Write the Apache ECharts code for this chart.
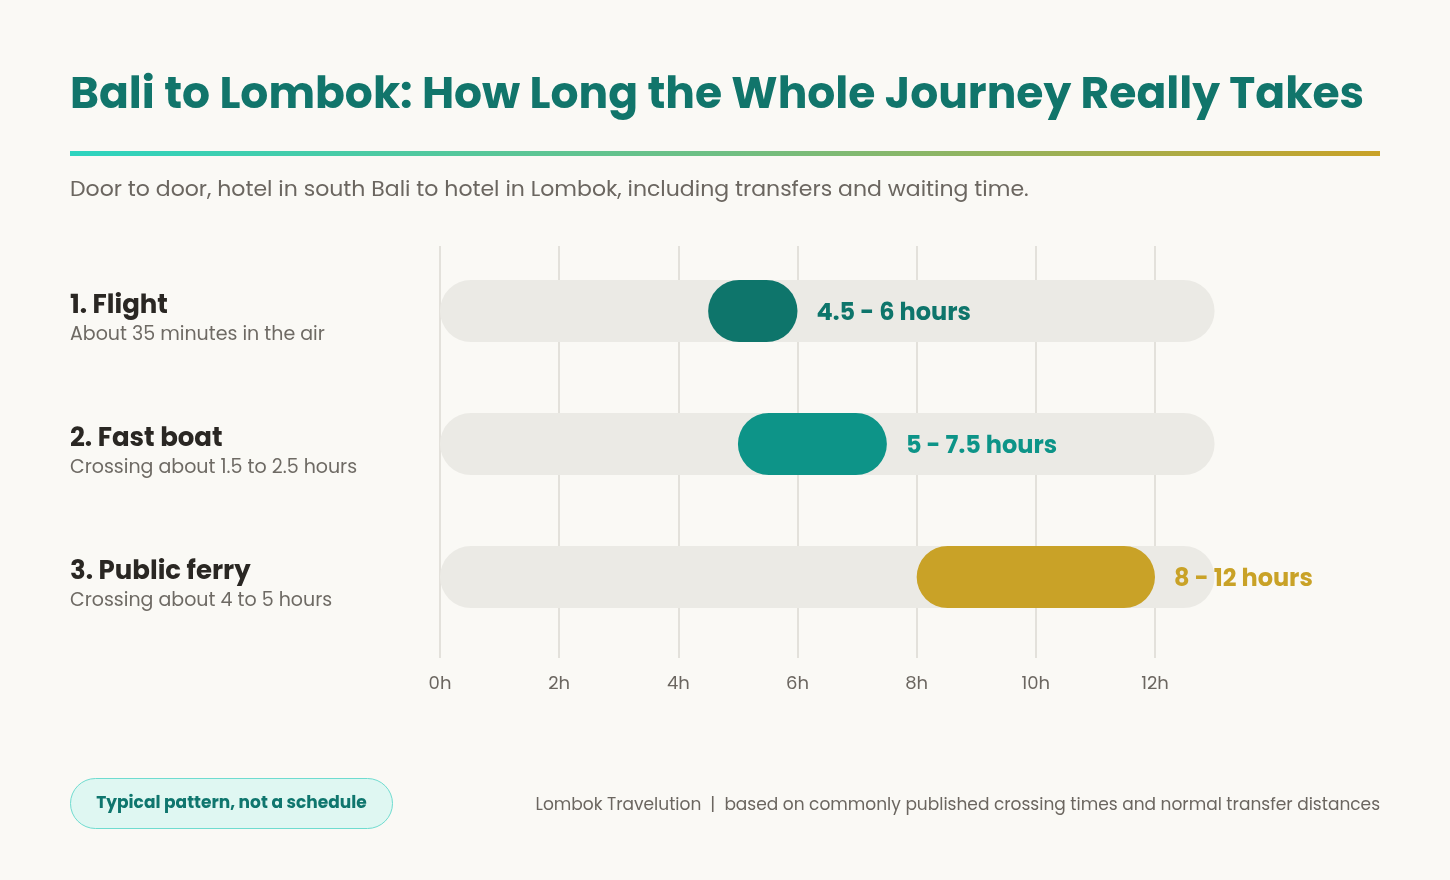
<!DOCTYPE html>
<html>
<head>
<meta charset="utf-8">
<script src="https://cdn.jsdelivr.net/npm/echarts@6/dist/echarts.min.js"></script>
<style>
html,body{margin:0;padding:0;background:#faf9f5;}
#chart{width:1450px;height:880px;}
</style>
</head>
<body>
<div id="chart"></div>
<script>
const categories = ['1. Flight', '2. Fast boat', '3. Public ferry'];
const subtitles = ['About 35 minutes in the air', 'Crossing about 1.5 to 2.5 hours', 'Crossing about 4 to 5 hours'];
const minHours = [4.5, 5, 8];
const maxHours = [6, 7.5, 12];
const rangeLabels = ['4.5 - 6 hours', '5 - 7.5 hours', '8 - 12 hours'];
const trackStart = 0;
const trackEnd = 13;
const tickValues = [0, 2, 4, 6, 8, 10, 12];

const barColors = ['#0e756b', '#0d9488', '#c9a227'];
const FONT = 'Poppins, Inter, "Noto Sans", sans-serif';

const chart = echarts.init(document.getElementById('chart'));

function pill(params, api, x0, x1, color) {
  const idx = api.value(2);
  const p0 = api.coord([x0, idx]);
  const p1 = api.coord([x1, idx]);
  const band = api.size([0, 1])[1];
  const h = band * 0.466;
  return {
    type: 'rect',
    shape: { x: p0[0], y: p0[1] - h / 2, width: p1[0] - p0[0], height: h, r: h / 2 },
    style: { fill: color }
  };
}

const option = {
  backgroundColor: '#faf9f5',
  animation: false,
  textStyle: { fontFamily: FONT },
  title: [
    {
      text: 'Bali to Lombok: How Long the Whole Journey Really Takes',
      left: 70, top: 69, padding: 0,
      textStyle: { fontFamily: FONT, fontSize: 44, fontWeight: 'bold', color: '#11756b', lineHeight: 56 }
    },
    {
      text: 'Door to door, hotel in south Bali to hotel in Lombok, including transfers and waiting time.',
      left: 70, top: 175, padding: 0,
      textStyle: { fontFamily: FONT, fontSize: 22, fontWeight: 'normal', color: '#6b6660', lineHeight: 30 }
    }
  ],
  grid: [
    { left: 440, right: 295, top: 244.5, height: 399 },
    { left: 440, right: 295, top: 246, bottom: 222 }
  ],
  xAxis: [
    { gridIndex: 0, type: 'value', min: 0, max: 12, show: false },
    {
      gridIndex: 1, type: 'value', min: 0, max: 12, interval: 2,
      axisLine: { show: false }, axisTick: { show: false },
      splitLine: { show: true, lineStyle: { color: '#e3e1db', width: 2 } },
      axisLabel: { formatter: '{value}h', margin: 17, fontSize: 18, color: '#6b6660', fontFamily: FONT }
    }
  ],
  yAxis: [
    {
      gridIndex: 0, type: 'category', data: categories, inverse: true,
      axisLine: { show: false }, axisTick: { show: false }, splitLine: { show: false },
      axisLabel: {
        align: 'left', margin: 370,
        padding: [18, 0, 0, 0],
        formatter: function (v, i) { return '{t|' + v + '}\n{s|' + subtitles[i] + '}'; },
        rich: {
          t: { fontFamily: FONT, fontSize: 26, fontWeight: 'bold', color: '#2a2723', lineHeight: 30 },
          s: { fontFamily: FONT, fontSize: 19, color: '#6e6a64', lineHeight: 28 }
        }
      }
    },
    { gridIndex: 1, type: 'value', show: false, min: 0, max: 1 }
  ],
  series: [
    {
      type: 'custom', xAxisIndex: 0, yAxisIndex: 0, clip: false, z: 1,
      data: categories.map((c, i) => [trackStart, trackEnd, i]),
      encode: { x: [0, 1], y: 2 },
      renderItem: function (params, api) {
        return pill(params, api, api.value(0), api.value(1), '#ebeae5');
      }
    },
    {
      type: 'custom', xAxisIndex: 0, yAxisIndex: 0, clip: false, z: 2,
      data: categories.map((c, i) => [minHours[i], maxHours[i], i]),
      encode: { x: [0, 1], y: 2 },
      renderItem: function (params, api) {
        const i = params.dataIndex;
        const r = pill(params, api, api.value(0), api.value(1), barColors[i]);
        const pEnd = api.coord([api.value(1), api.value(2)]);
        return {
          type: 'group',
          children: [
            r,
            {
              type: 'text',
              style: {
                x: pEnd[0] + 19, y: pEnd[1] + 3,
                text: rangeLabels[i],
                fill: barColors[i],
                font: 'bold 24px ' + FONT,
                textVerticalAlign: 'middle', verticalAlign: 'middle'
              }
            }
          ]
        };
      }
    }
  ],
  graphic: [
    {
      type: 'rect', left: 70, top: 151, z: 10,
      shape: { width: 1310, height: 5 },
      style: {
        fill: new echarts.graphic.LinearGradient(0, 0, 1, 0, [
          { offset: 0, color: '#2dd4bf' },
          { offset: 0.5, color: '#6fbf83' },
          { offset: 1, color: '#c9a227' }
        ])
      }
    },
    {
      type: 'group', left: 70, top: 778,
      children: [
        {
          type: 'rect',
          shape: { x: 0, y: 0, width: 322, height: 50, r: 25 },
          style: { fill: '#dff7f2', stroke: '#6fdcd0', lineWidth: 1 }
        },
        {
          type: 'text',
          style: {
            x: 161, y: 25, text: 'Typical pattern, not a schedule',
            font: 'bold 17px ' + FONT, fill: '#0f766e',
            align: 'center', verticalAlign: 'middle'
          }
        }
      ]
    },
    {
      type: 'text', right: 70, top: 797,
      style: {
        text: 'Lombok Travelution  |  based on commonly published crossing times and normal transfer distances',
        font: '17px ' + FONT, fill: '#6b6660'
      }
    }
  ]
};
chart.setOption(option);
</script>
</body>
</html>
